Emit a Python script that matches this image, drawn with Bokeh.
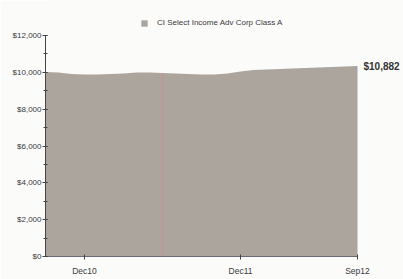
from bokeh.plotting import figure
from bokeh.models import (ColumnDataSource, Legend, LegendItem, Label, FixedTicker,
                          SingleIntervalTicker, NumeralTickFormatter, Range1d)
from bokeh.embed import file_html
from bokeh.resources import INLINE

# Monthly growth of $10,000, Sep 2010 .. Sep 2012
months = ["Sep10", "Oct10", "Nov10", "Dec10", "Jan11", "Feb11", "Mar11", "Apr11", "May11",
          "Jun11", "Jul11", "Aug11", "Sep11", "Oct11", "Nov11", "Dec11", "Jan12", "Feb12",
          "Mar12", "Apr12", "May12", "Jun12", "Jul12", "Aug12", "Sep12"]
values = [10020, 9990, 9910, 9880, 9880, 9910, 9935, 9990, 9990,
          9960, 9935, 9910, 9880, 9880, 9935, 10045, 10125, 10150,
          10180, 10210, 10235, 10260, 10290, 10315, 10340]
series_name = "CI Select Income Adv Corp Class A"
end_label = "$10,882"
tick_months = ["Dec10", "Dec11", "Sep12"]
marker_month = "Jun11"
y_max = 12000

xs = list(range(len(months)))
src = ColumnDataSource(dict(x=xs, top=values, bottom=[0] * len(xs)))

FONT = "Liberation Sans"
TXT = "#3a3a3a"
FILL = "#aba59e"

W, H = 403, 279
LEFT, BOTTOM = 45, 23
PLOT_TOP, PLOT_RIGHT = 35, 357          # pixel position of y_max / last month
frame_h = H - BOTTOM
frame_w = W - LEFT
y_end = y_max * frame_h / (frame_h - PLOT_TOP)
x_end = (len(xs) - 1) * frame_w / (PLOT_RIGHT - LEFT)

p = figure(width=W, height=H, output_backend="svg", toolbar_location=None,
           x_range=Range1d(0, x_end), y_range=Range1d(0, y_end),
           min_border_left=LEFT, min_border_right=0, min_border_top=0, min_border_bottom=BOTTOM,
           background_fill_color="#fbfbfa", border_fill_color="#fbfbfa")
p.outline_line_color = None
p.xgrid.grid_line_color = None
p.ygrid.grid_line_color = None

area = p.varea(x="x", y1="bottom", y2="top", source=src, fill_color=FILL)

# thin marker line
mi = months.index(marker_month)
p.segment(x0=[mi], y0=[0], x1=[mi], y1=[values[mi]], line_color="#d08c88", line_width=1, line_alpha=0.8)

# axes
p.yaxis.bounds = (0, y_max)
p.yaxis.ticker = SingleIntervalTicker(interval=2000, num_minor_ticks=2)
p.yaxis.formatter = NumeralTickFormatter(format="$0,0")
p.yaxis.major_label_text_font = FONT
p.yaxis.major_label_text_font_size = "8px"
p.yaxis.major_label_text_color = TXT
p.yaxis.axis_line_color = "#444444"
p.yaxis.major_tick_line_color = "#444444"
p.yaxis.minor_tick_line_color = "#444444"
p.yaxis.major_tick_in = 2
p.yaxis.major_tick_out = 3
p.yaxis.minor_tick_in = 2
p.yaxis.minor_tick_out = 2
p.yaxis.major_label_standoff = 1

tick_idx = [months.index(m) for m in tick_months]
p.xaxis.bounds = (0, len(xs) - 1)
p.xaxis.ticker = FixedTicker(ticks=tick_idx, minor_ticks=[])
p.xaxis.major_label_overrides = {i: m for i, m in zip(tick_idx, tick_months)}
p.xaxis.major_label_text_font = FONT
p.xaxis.major_label_text_font_size = "8.5px"
p.xaxis.major_label_text_color = TXT
p.xaxis.axis_line_color = "#6a6a72"
p.xaxis.major_tick_line_color = "#444444"
p.xaxis.major_tick_in = 2
p.xaxis.major_tick_out = 3
p.xaxis.major_label_standoff = 6

# end value label
p.add_layout(Label(x=xs[-1], y=values[-1], text=end_label, x_offset=6, y_offset=0,
                   text_baseline="middle", text_align="left", text_font=FONT,
                   text_font_size="10px", text_font_style="bold", text_color="#333333"))

legend = Legend(items=[LegendItem(label=series_name, renderers=[area])],
                location=(95, 229), orientation="horizontal",
                label_text_font=FONT, label_text_font_size="8px", label_text_color=TXT,
                glyph_width=8, glyph_height=8, label_standoff=9, label_height=8,
                padding=3, margin=0, spacing=0,
                background_fill_alpha=0, border_line_color=None)
p.add_layout(legend)

open("out.html", "w").write(file_html(p, INLINE))
